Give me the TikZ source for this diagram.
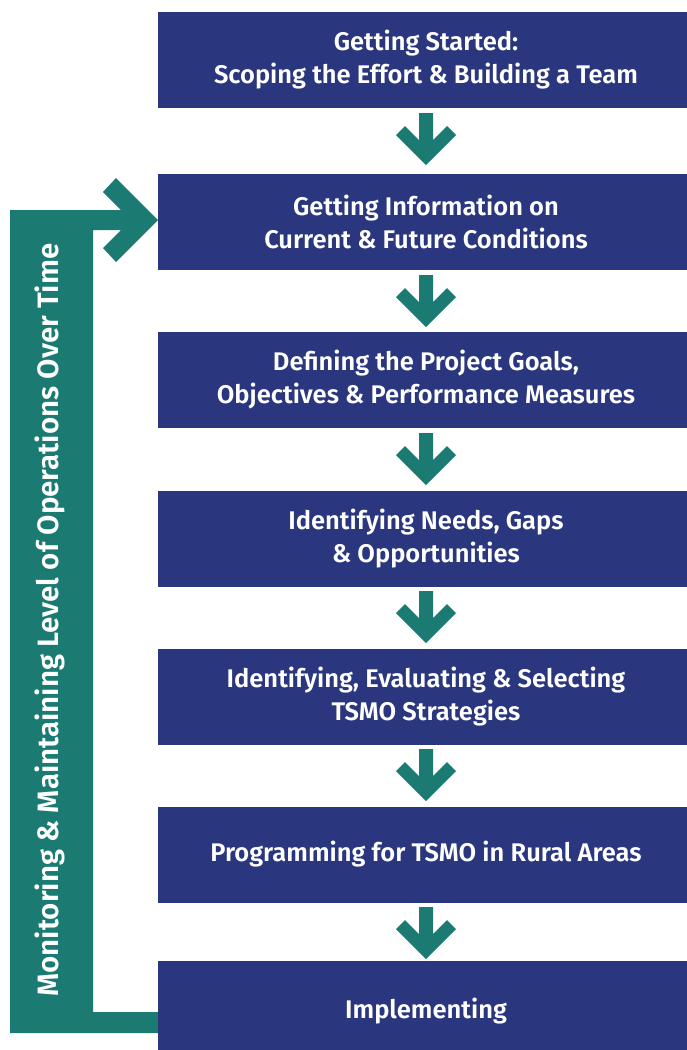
\documentclass[tikz,border=0pt]{standalone}
\usepackage{fontspec}
\setmainfont{Fira Sans}[UprightFont=* SemiBold, BoldFont=* Bold]
\definecolor{navy}{RGB}{42,54,126}
\definecolor{teal1}{RGB}{27,123,115}
\begin{document}
\begin{tikzpicture}[x=1pt,y=-1pt,
  stepbox/.style={fill=navy, text=white, minimum width=536pt, minimum height=96pt,
    inner sep=0pt, align=center, font=\fontsize{25.5}{33}\selectfont},
  looptext/.style={text=white, rotate=90, font=\fontsize{29.5}{32}\selectfont, inner sep=0pt},
  downarrow/.pic={\fill[teal1] (-7,0) -- (7,0) -- (7,27) -- (21,13) -- (30,22) -- (0,52)
      -- (-30,22) -- (-21,13) -- (-7,27) -- cycle;}]
\useasboundingbox (0,0) rectangle (687,1050);
\clip (0,0) rectangle (687,1050);
% feedback loop band
\fill[teal1] (10,210) -- (121,210) -- (103,192) -- (116,178) -- (158,220) -- (116,262)
  -- (103,248) -- (121,230) -- (93,230) -- (93,1012) -- (158,1012) -- (158,1033)
  -- (10,1033) -- cycle;
\node[stepbox] (b1) at (426,60) {Getting Started:\\Scoping the Effort \& Building a Team};
\node[stepbox] (b2) at (426,222) {Getting Information on\\Current \& Future Conditions};
\node[stepbox] (b3) at (426,380) {Defining the Project Goals,\\Objectives \& Performance Measures};
\node[stepbox] (b4) at (426,538.5) {Identifying Needs, Gaps\\\& Opportunities};
\node[stepbox] (b5) at (426,696.5) {Identifying, Evaluating \& Selecting\\TSMO Strategies};
\node[stepbox] (b6) at (426,854.5) {Programming for TSMO in Rural Areas};
\node[stepbox, minimum height=100pt] (b7) at (426,1011) {Implementing};
\node[looptext] (loop) at (50,620) {Monitoring \& Maintaining Level of Operations Over Time};
\pic at (426,113) {downarrow};
\pic at (426,275) {downarrow};
\pic at (426,433) {downarrow};
\pic at (426,591) {downarrow};
\pic at (426,749) {downarrow};
\pic at (426,907) {downarrow};
\end{tikzpicture}
\end{document}
